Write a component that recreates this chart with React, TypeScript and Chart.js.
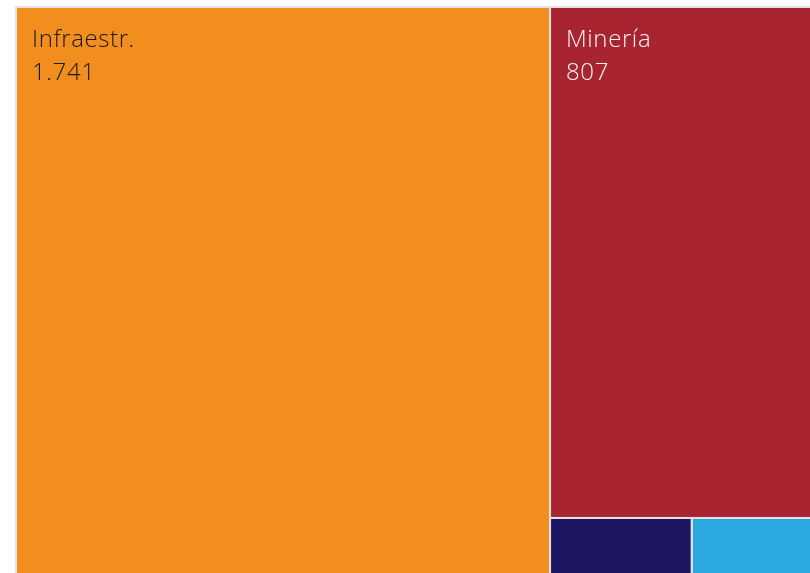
import React, { useEffect, useRef } from "react";
import { Chart, registerables } from "chart.js";

Chart.register(...registerables);

// ---- data ----
const categories: string[] = ["Infraestr.", "Minería", "Energía", "Otros"];
const values: number[] = [1741, 807, 55, 54];

// ---- styles ----
const fillColors: string[] = ["#F28E1E", "#A82430", "#1B1562", "#2CA8E0"];
const labelColors: string[] = ["#1a1a1a", "#f4f4f4", "#f4f4f4", "#1a1a1a"];
const borderColor = "#e2e2e2";

// treemap box in data units and visible window
const BOX_W = 815;
const BOX_H = 580;

type Rect = { x: number; y: number; w: number; h: number; i: number };

function worst(row: number[], side: number): number {
  const sum = row.reduce((a, b) => a + b, 0);
  const mx = Math.max(...row);
  const mn = Math.min(...row);
  const s2 = side * side;
  return Math.max((s2 * mx) / (sum * sum), (sum * sum) / (s2 * mn));
}

function squarify(vals: number[], W: number, H: number): Rect[] {
  const total = vals.reduce((a, b) => a + b, 0);
  const items = vals
    .map((v, i) => ({ a: (v / total) * W * H, i }))
    .sort((p, q) => q.a - p.a);
  const out: Rect[] = [];
  let x = 0, y = 0, w = W, h = H;
  let k = 0;
  while (k < items.length) {
    const side = Math.min(w, h);
    const row = [items[k]];
    let j = k + 1;
    while (
      j < items.length &&
      worst([...row, items[j]].map((r) => r.a), side) <= worst(row.map((r) => r.a), side)
    ) {
      row.push(items[j]);
      j++;
    }
    const sum = row.reduce((s, r) => s + r.a, 0);
    if (w >= h) {
      const cw = sum / h;
      let cy = y;
      row.forEach((r) => {
        const ch = r.a / cw;
        out.push({ x, y: cy, w: cw, h: ch, i: r.i });
        cy += ch;
      });
      x += cw;
      w -= cw;
    } else {
      const rh = sum / w;
      let cx = x;
      row.forEach((r) => {
        const rw = r.a / rh;
        out.push({ x: cx, y, w: rw, h: rh, i: r.i });
        cx += rw;
      });
      y += rh;
      h -= rh;
    }
    k = j;
  }
  return out;
}

function fmt(n: number): string {
  return String(n).replace(/\B(?=(\d{3})+(?!\d))/g, ".");
}

const treemapPlugin = {
  id: "treemapDraw",
  beforeDatasetsDraw(chart: any) {
    const { ctx, scales } = chart;
    const xs = scales.x;
    const ys = scales.y;
    const rects = squarify(values, BOX_W, BOX_H);
    const px = (r: Rect) => {
      const x0 = xs.getPixelForValue(r.x);
      const x1 = xs.getPixelForValue(r.x + r.w);
      const y0 = ys.getPixelForValue(r.y);
      const y1 = ys.getPixelForValue(r.y + r.h);
      return { left: Math.min(x0, x1), top: Math.min(y0, y1), w: Math.abs(x1 - x0), h: Math.abs(y1 - y0) };
    };
    ctx.save();
    rects.forEach((r) => {
      const p = px(r);
      ctx.fillStyle = fillColors[r.i];
      ctx.fillRect(p.left, p.top, p.w, p.h);
    });
    rects.forEach((r) => {
      const p = px(r);
      ctx.strokeStyle = borderColor;
      ctx.lineWidth = 2;
      ctx.strokeRect(p.left, p.top, p.w, p.h);
    });
    rects.forEach((r) => {
      const p = px(r);
      if (p.h < 90 || p.w < 90) return;
      ctx.fillStyle = labelColors[r.i];
      ctx.font = "350 24px 'Open Sans', sans-serif";
      try { (ctx as any).letterSpacing = "0.6px"; } catch (e) {}
      ctx.textAlign = "left";
      ctx.textBaseline = "alphabetic";
      ctx.fillText(categories[r.i], p.left + 16, p.top + 40);
      ctx.fillText(fmt(values[r.i]), p.left + 16, p.top + 73);
    });
    ctx.restore();
  },
};

export default function App() {
  const ref = useRef<HTMLCanvasElement | null>(null);
  useEffect(() => {
    if (!ref.current) return;
    const chart = new Chart(ref.current, {
      type: "scatter",
      data: { datasets: [{ data: [] }] },
      options: {
        animation: false,
        responsive: true,
        maintainAspectRatio: false,
        layout: { padding: 0 },
        plugins: { legend: { display: false }, tooltip: { enabled: false } },
        scales: {
          x: { type: "linear", display: false, min: -16, max: 794 },
          y: { type: "linear", display: false, reverse: true, min: -7, max: 566 },
        },
      },
      plugins: [treemapPlugin],
    });
    return () => chart.destroy();
  }, []);
  return (
    <div style={{ position: "fixed", left: 0, top: 0, width: 810, height: 573, background: "#fff" }}>
      <canvas ref={ref} />
    </div>
  );
}
